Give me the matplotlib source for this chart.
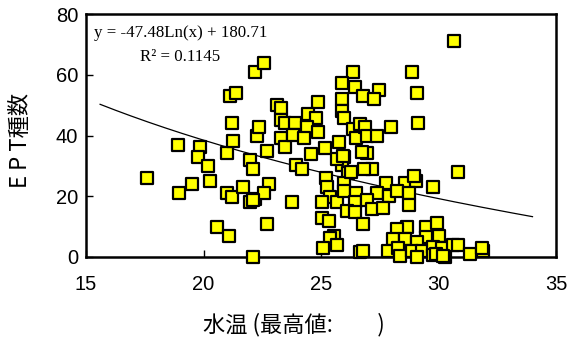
import numpy as np
import matplotlib
matplotlib.use("Agg")
import matplotlib.pyplot as plt

# Data
water_temp = [17.60, 18.91, 18.96, 19.51, 19.85, 19.77, 20.19, 20.28, 20.57, 21.09,
              21.00, 21.21, 21.68, 21.98, 22.11, 21.98, 22.11, 21.00, 22.19, 21.21,
              21.26, 21.13, 21.38, 22.19, 22.57, 22.28, 22.36, 22.70, 23.13, 23.30,
              23.30, 23.47, 23.30, 23.47, 23.89, 23.81, 23.94, 24.19, 22.79, 22.57,
              23.77, 22.70, 24.57, 25.21, 25.26, 25.38, 25.04, 25.68, 25.04, 25.34,
              25.55, 25.38, 25.68, 25.09, 25.98, 25.89, 26.15, 25.98, 25.98, 26.49,
              26.45, 26.11, 26.45, 26.66, 30.66, 28.87, 26.36, 29.09, 26.45, 27.47,
              26.79, 27.26, 25.89, 25.89, 25.89, 25.98, 24.87, 24.45, 24.79, 24.40,
              24.87, 24.28, 25.17, 25.77, 26.36, 26.49, 26.66, 26.87, 26.96, 27.38,
              27.98, 29.13, 26.96, 26.74, 27.17, 26.83, 26.28, 30.83, 27.77, 28.57,
              29.04, 28.96, 29.77, 27.38, 27.89, 28.23, 28.74, 28.74, 26.96, 27.17,
              27.64, 26.79, 28.66, 29.47, 29.94, 28.23, 28.06, 28.57, 29.47, 30.02,
              29.09, 26.79, 27.85, 28.28, 28.36, 28.87, 29.30, 29.77, 30.15, 30.28,
              29.77, 30.62, 30.83, 31.34, 31.89, 31.85, 29.09, 29.89, 30.19, 25.68,
              22.11, 25.94]
ept_count = [26.0, 36.8, 21.1, 24.0, 36.2, 32.9, 29.9, 25.0, 9.9, 6.9,
             21.1, 19.7, 23.0, 18.1, 0.0, 31.9, 28.9, 34.2, 19.1, 44.1,
             38.2, 53.0, 53.9, 60.9, 63.8, 39.8, 42.8, 34.9, 50.0, 49.0,
             45.1, 44.1, 39.1, 36.2, 44.1, 40.1, 30.3, 28.9, 24.0, 21.1,
             18.1, 10.9, 33.9, 26.0, 23.0, 19.7, 18.1, 18.1, 12.8, 11.8,
             6.9, 6.3, 3.9, 3.0, 32.9, 30.3, 27.6, 24.3, 21.7, 21.1,
             18.1, 15.1, 14.8, 1.6, 71.1, 60.9, 60.9, 53.9, 55.9, 54.9,
             53.0, 52.0, 57.2, 52.0, 48.0, 45.7, 51.0, 47.0, 45.7, 42.8,
             41.1, 39.1, 35.9, 37.8, 42.1, 39.1, 43.8, 42.8, 39.8, 39.8,
             42.8, 44.1, 34.2, 34.5, 28.9, 28.9, 28.0, 28.0, 24.3, 24.3,
             25.0, 26.6, 23.0, 21.1, 20.1, 21.7, 21.1, 17.1, 18.8, 15.8,
             16.1, 10.9, 9.9, 9.9, 11.2, 9.2, 5.9, 5.9, 6.6, 6.9,
             4.9, 2.0, 2.0, 3.0, 0.3, 2.0, 2.0, 3.3, 3.0, 0.0,
             0.7, 3.9, 3.9, 1.0, 2.0, 3.0, 0.0, 1.0, 0.3, 32.2,
             18.8, 33.2]

# Logarithmic trend: y = a*ln(x) + b
trend_a = -47.48
trend_b = 180.71
trend_range = [15.6, 34.0]

x_ticks = [15, 20, 25, 30, 35]
y_ticks = [0, 20, 40, 60, 80]

W, H = 568, 339
fig = plt.figure(figsize=(W/100, H/100), dpi=100)
ax = fig.add_axes([86/W, 1-257/H, (556-86)/W, (257-14)/H])

tx = np.linspace(trend_range[0], trend_range[1], 200)
ax.plot(tx, trend_a*np.log(tx) + trend_b, color='black', lw=0.9, zorder=2)

ax.scatter(water_temp, ept_count, marker='s', s=80, facecolor='#FFFF00',
           edgecolor='black', linewidths=1.6, zorder=3, clip_on=False)

ax.set_xlim(15, 35)
ax.set_ylim(0, 80)
ax.set_xticks(x_ticks)
ax.set_yticks(y_ticks)
ax.tick_params(direction='in', length=5, width=1, labelsize=14.5)
ax.tick_params(axis='x', pad=13)
ax.tick_params(axis='y', pad=5.5)
for lab in ax.get_xticklabels() + ax.get_yticklabels():
    lab.set_family(['Liberation Sans', 'DejaVu Sans'])
for s in ax.spines.values():
    s.set_linewidth(1.8)
    s.set_color('black')

cjk = ['Noto Sans CJK JP', 'DejaVu Sans']
fig.text(21/W, 1-140/H, 'E P T種数', family=cjk, fontsize=16, rotation=90,
         ha='center', va='center')
fig.text(203/W, 1-325/H, '水温 (最高値:　　)', family=cjk, fontsize=16,
         ha='left', va='center')

serif = ['Liberation Serif', 'DejaVu Serif']
ax.text(0.017, 0.922, 'y = -47.48Ln(x) + 180.71', transform=ax.transAxes,
        family=serif, fontsize=12.2, ha='left', va='center')
ax.text(0.2, 0.823, 'R² = 0.1145', transform=ax.transAxes,
        family=serif, fontsize=12.2, ha='center', va='center')

fig.savefig('out.png', dpi=100)
